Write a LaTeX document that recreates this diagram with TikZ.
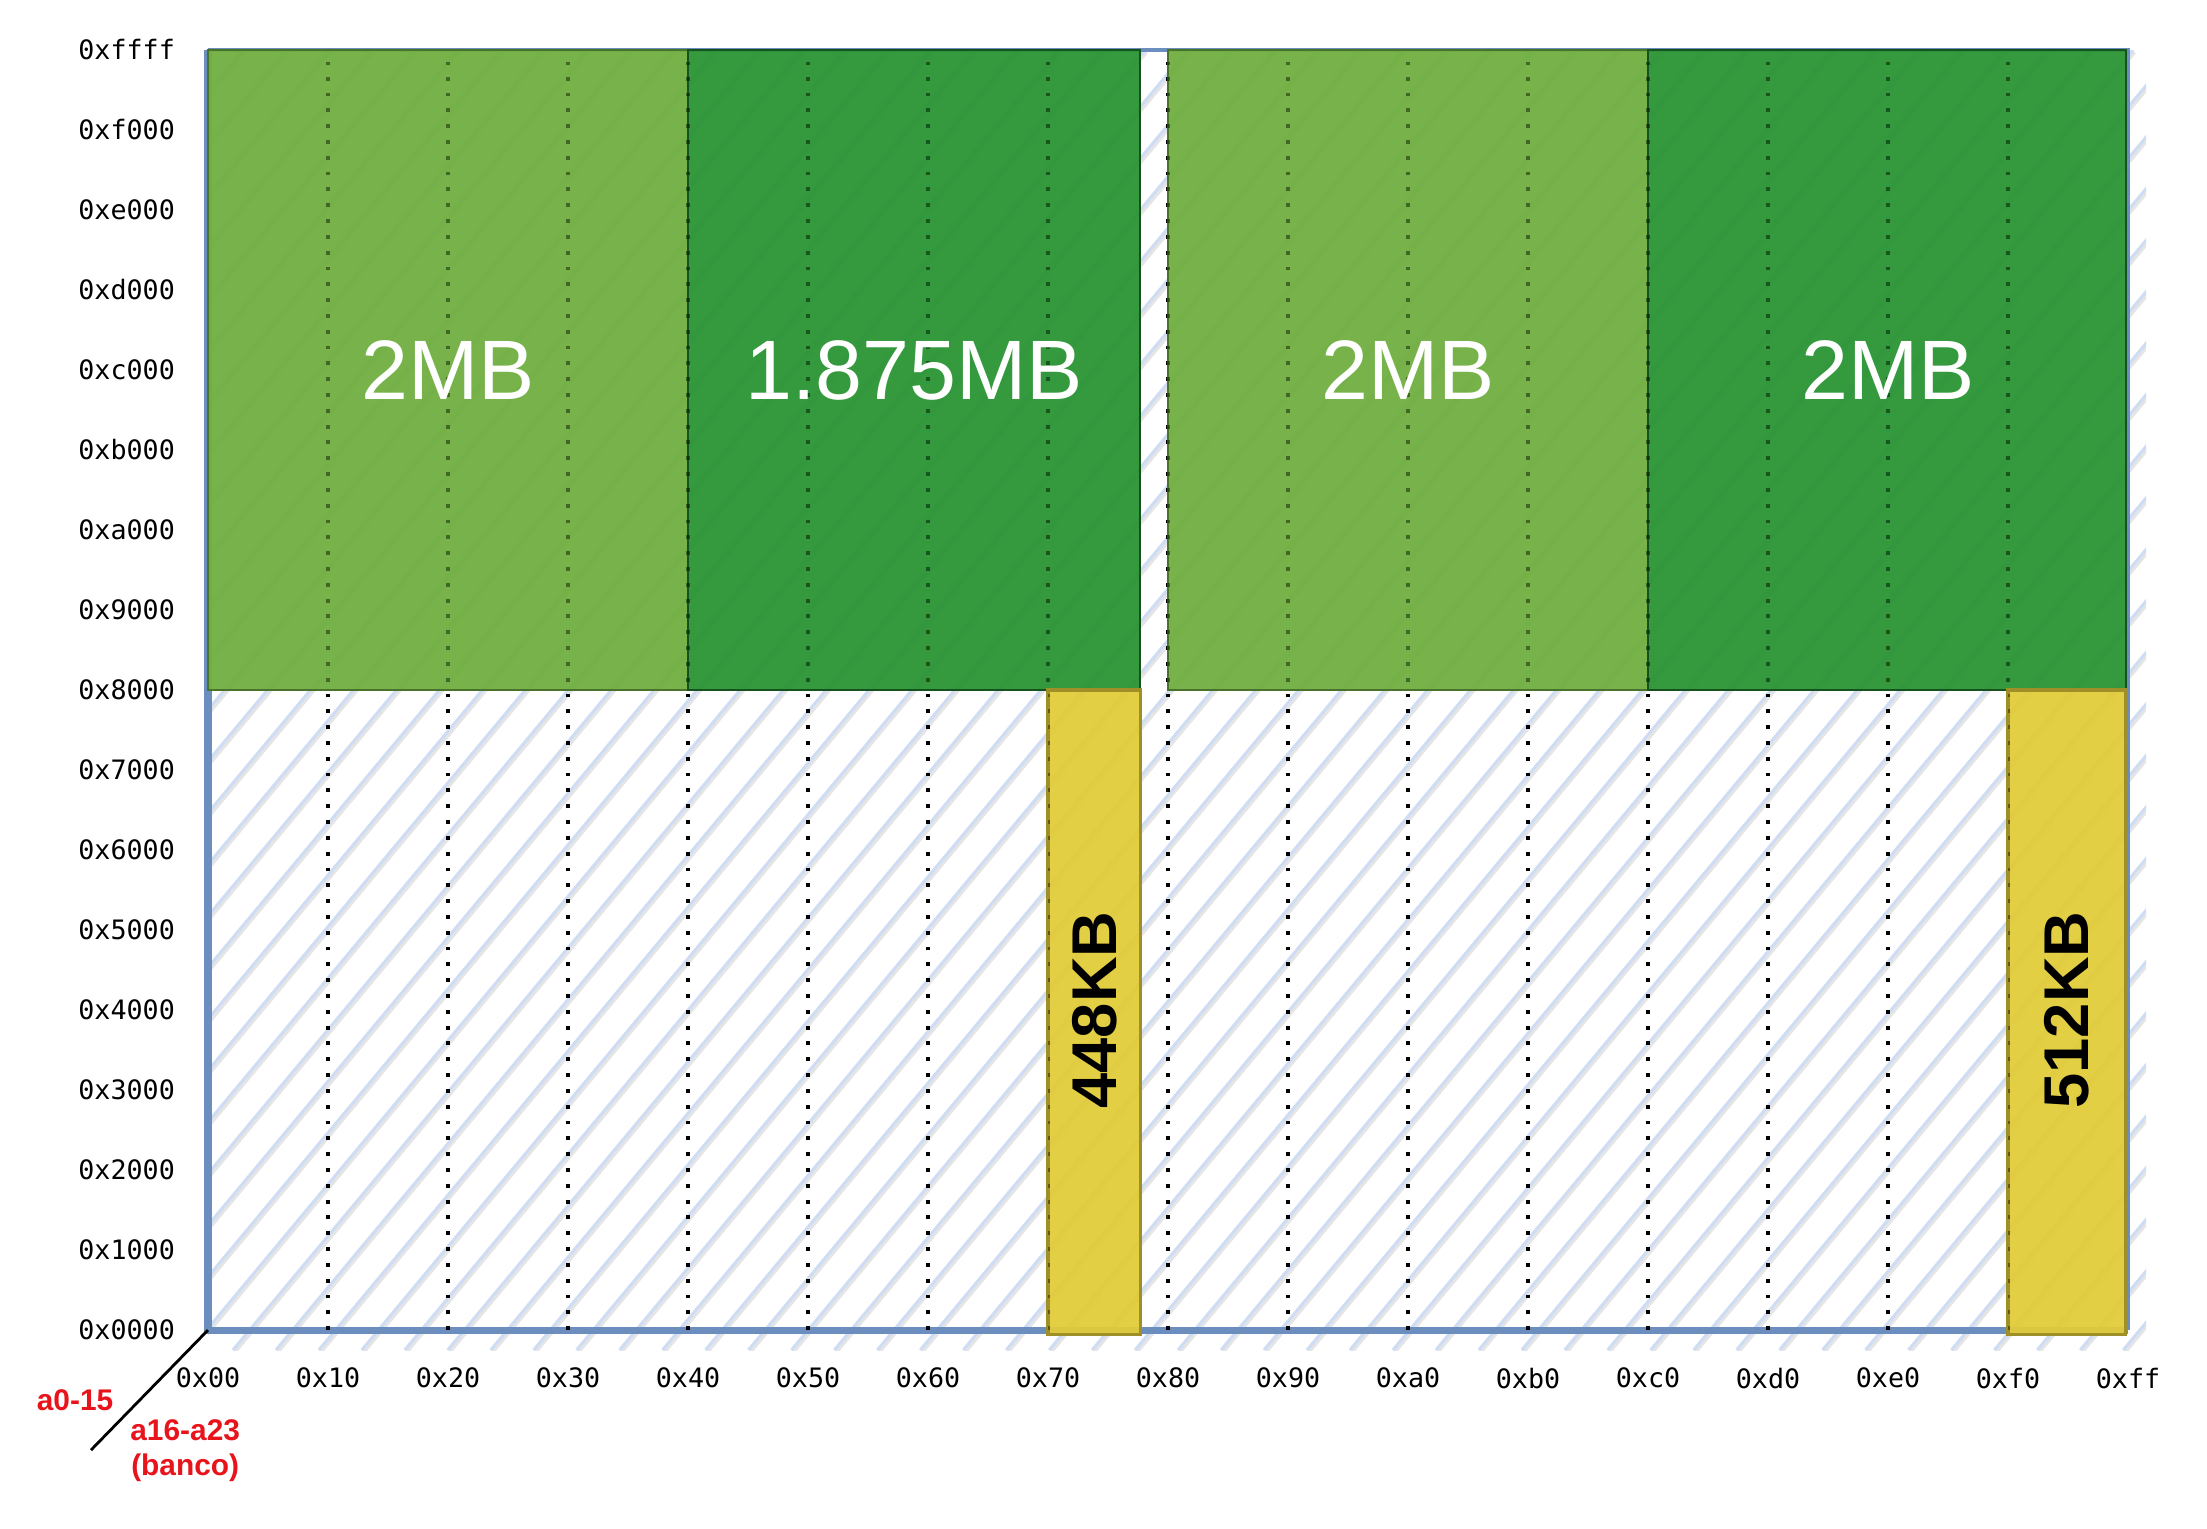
\documentclass[tikz,border=0pt]{standalone}
\usepackage{fontspec}
\setmainfont{Liberation Sans}
\newfontfamily\addrfont{DejaVu Sans Mono}
\usetikzlibrary{calc}

\definecolor{lgreen}{RGB}{112,175,64}
\definecolor{dgreen}{RGB}{42,148,52}
\definecolor{bankyellow}{RGB}{226,204,58}
\definecolor{axisblue}{RGB}{108,142,191}
\definecolor{hatchblue}{RGB}{206,221,243}
\definecolor{addrred}{RGB}{232,20,28}

\begin{document}
\begin{tikzpicture}[
  x=1.2cm, y=0.8cm,
  hatch/.style={draw=hatchblue, line width=0.9pt},
  hatchshadow/.style={draw=black!10, line width=0.9pt},
  axis/.style={draw=axisblue, line width=2pt},
  frame/.style={draw=axisblue, line width=1.3pt},
  grid/.style={draw=black, line width=1.1pt, dash pattern=on 1.1pt off 3.4pt},
  light/.style={fill=lgreen, draw=lgreen!65!black, line width=0.6pt, fill opacity=0.95},
  dark/.style={fill=dgreen, draw=dgreen!55!black, line width=0.6pt, fill opacity=0.95},
  bank/.style={fill=bankyellow, draw=bankyellow!70!black, line width=0.9pt, fill opacity=0.95},
  size/.style={text=white, font=\fontsize{24}{28}\selectfont},
  ksize/.style={font=\bfseries\fontsize{18}{22}\selectfont, rotate=90},
  ylab/.style={font=\addrfont\fontsize{7.6}{9}\selectfont, anchor=east, inner sep=0pt},
  xlab/.style={font=\addrfont\fontsize{7.6}{9}\selectfont},
  bus/.style={text=addrred, font=\bfseries\fontsize{8.5}{10}\selectfont, align=center}
]
\useasboundingbox (-1.7333,-2.475) rectangle (16.658,16.625);

% Unmapped space: diagonal hatching.
\begin{scope}
\clip (0,-0.25) rectangle (16.15,16);
\foreach \a in {-9.1,-8.742,...,16.2} {
  \draw[hatchshadow] (\a+0.015,-0.28) -- ++(9.03,16.25);
  \draw[hatch] (\a,-0.25) -- ++(9.03,16.25);
}
\end{scope}

% Axes.
\draw[frame] (0,16) -- (16,16) -- (16,0);
\draw[axis] (0,16) -- (0,0) -- (16,0);

% Bank grid, one line every 0x10 banks.
\foreach \k in {1,...,15}
  \draw[grid] (\k,0) -- (\k,15.85);

% Mapped blocks.
\draw[light] (0,8) rectangle (4,16);
\draw[dark] (4,8) rectangle (7.77,16);
\draw[light] (8,8) rectangle (12,16);
\draw[dark] (12,8) rectangle (15.98,16);
\draw[bank] (7,-0.06) rectangle (7.77,8);
\draw[bank] (15,-0.06) rectangle (15.98,8);

% Grid seen through the blocks.
\begin{scope}
\clip (0,8) rectangle (16,16) (7,-0.1) rectangle (7.77,8) (15,-0.1) rectangle (16,8);
\foreach \k in {1,...,15}
  \draw[grid, opacity=0.38] (\k,0) -- (\k,15.85);
\end{scope}

% Sizes.
\node[size] (lo2mb) at (2,12) {2MB};
\node[size] (lo1875) at (5.885,12) {1.875MB};
\node[size] (hi2mb) at (10,12) {2MB};
\node[size] (top2mb) at (14,12) {2MB};
\node[ksize] (lo448) at (7.385,4) {448KB};
\node[ksize] (hi512) at (15.49,4) {512KB};

% Address labels.
\foreach \i/\t in {0/0000,1/1000,2/2000,3/3000,4/4000,5/5000,6/6000,7/7000,
  8/8000,9/9000,10/a000,11/b000,12/c000,13/d000,14/e000,15/f000,16/ffff}
  \node[ylab] (y\i) at (-0.27,\i) {0x\t};
\foreach \i/\t in {0/00,1/10,2/20,3/30,4/40,5/50,6/60,7/70,
  8/80,9/90,10/a0,11/b0,12/c0,13/d0,14/e0,15/f0,16/ff}
  \node[xlab] (x\i) at (\i,-0.6) {0x\t};

% Bus split.
\coordinate (origin) at (0,0);
\coordinate (bankend) at (-0.975,-1.5);
\draw[line width=0.8pt] (origin) -- (bankend);
\node[bus] (rowbus) at (-1.108,-0.875) {a0-15};
\node[bus] (bankbus) at (-0.19,-1.51) {a16-a23\\(banco)};

\end{tikzpicture}
\end{document}
